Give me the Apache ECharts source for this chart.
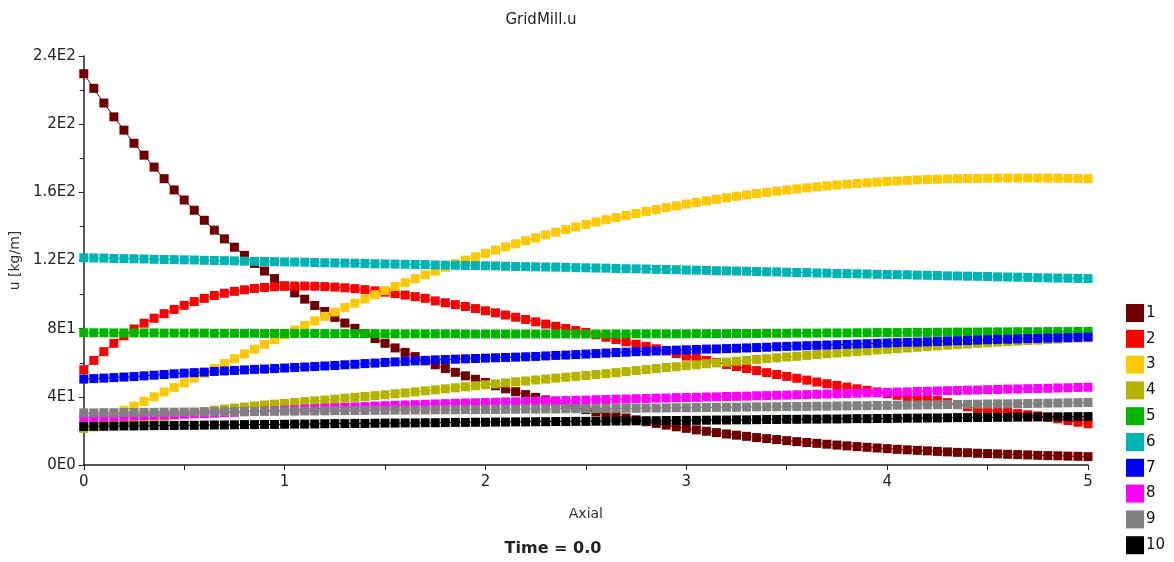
<!DOCTYPE html>
<html><head><meta charset="utf-8">
<script src="https://cdn.jsdelivr.net/npm/echarts@6/dist/echarts.min.js"></script>
<style>html,body{margin:0;padding:0;background:#fff}#c{width:1174px;height:562px}</style>
</head><body><div id="c"></div>
<script>
const axial = [0,0.05,0.1,0.15,0.2,0.25,0.3,0.35,0.4,0.45,0.5,0.55,0.6,0.65,0.7,0.75,0.8,0.85,0.9,0.95,
1,1.05,1.1,1.15,1.2,1.25,1.3,1.35,1.4,1.45,1.5,1.55,1.6,1.65,1.7,1.75,1.8,1.85,1.9,1.95,
2,2.05,2.1,2.15,2.2,2.25,2.3,2.35,2.4,2.45,2.5,2.55,2.6,2.65,2.7,2.75,2.8,2.85,2.9,2.95,
3,3.05,3.1,3.15,3.2,3.25,3.3,3.35,3.4,3.45,3.5,3.55,3.6,3.65,3.7,3.75,3.8,3.85,3.9,3.95,
4,4.05,4.1,4.15,4.2,4.25,4.3,4.35,4.4,4.45,4.5,4.55,4.6,4.65,4.7,4.75,4.8,4.85,4.9,4.95,5];

const u1 = [229.6,221,212.4,204.3,196.5,188.8,181.8,174.8,168,161.4,155.5,149.5,143.6,137.8,132.7,127.8,123,118.3,113.8,109.4,
105.1,101,97.3,93.6,90.1,86.6,83.3,80.2,77.2,74.2,71.4,68.7,66.1,63.6,61.1,58.8,56.6,54.4,52.3,50.3,
48.4,46.5,44.7,43,41.3,39.7,38.2,36.7,35.2,33.8,32.5,31.2,30,28.8,27.6,26.5,25.4,24.4,23.4,22.4,
21.5,20.6,19.8,19,18.2,17.5,16.8,16.1,15.5,14.9,14.3,13.7,13.2,12.7,12.2,11.7,11.2,10.8,10.4,10,
9.6,9.2,8.9,8.6,8.3,8,7.7,7.4,7.2,6.9,6.7,6.5,6.3,6.1,5.9,5.7,5.5,5.4,5.2,5.1,4.9];

const u2 = [55.9,61.4,66.5,71.4,75.8,79.8,83.2,86.1,88.8,91.3,93.7,95.9,97.8,99.5,100.8,101.9,102.8,103.6,104.2,104.6,
104.9,105,105,104.9,104.7,104.4,104,103.5,102.9,102.2,101.4,100.6,99.7,98.8,97.8,96.3,95.2,94.1,93,91.8,
90.5,89.3,88,86.7,85.4,84,82.7,81.4,80.1,78.9,77.8,76.4,75,73.6,72.3,70.9,69.6,68.2,66.9,65.4,
63.9,62.6,61.4,60.2,59,57.8,56.6,55.4,54.2,53.1,52,50.9,49.8,48.7,47.7,46.7,45.7,44.7,43.8,42.9,
41.9,40.9,40,39.2,38.5,37.8,36.6,35.4,34.2,33.1,32.3,31.6,30.9,30.2,29.5,28.8,28,27.1,26.1,25.1,24.2];

const u3 = [22,24.4,26.9,29.5,32.1,34.6,37.3,40,42.8,45.5,48.2,51,53.8,56.7,59.6,62.4,65.2,68,70.8,73.6,
76.4,79.2,81.9,84.6,87.2,89.8,92.4,94.9,97.4,99.9,102.3,104.7,107,109.3,111.6,113.8,116,118.1,120.2,122.2,
124.2,126.1,128,129.8,131.6,133.3,135,136.6,138.2,139.7,141.2,142.6,143.9,145.2,146.4,147.6,148.8,149.9,151,152.1,
153.1,154.1,155,155.9,156.8,157.7,158.5,159.3,160,160.7,161.4,162,162.6,163.2,163.8,164.3,164.8,165.2,165.6,166,
166.4,166.7,167,167.3,167.5,167.7,167.9,168,168.1,168.2,168.3,168.4,168.4,168.4,168.4,168.4,168.3,168.3,168.2,168.1,168];

const u4 = [21.5,22.4,23.3,24.2,25.1,26,26.8,27.6,28.4,29.2,30,30.7,31.4,32.1,32.8,33.4,34,34.6,35.2,35.7,
36.2,36.7,37.2,37.7,38.1,38.6,39.2,39.7,40.2,40.7,41.2,41.8,42.3,42.9,43.5,44.1,44.7,45.3,45.9,46.5,
47.1,47.6,48.2,48.8,49.3,49.9,50.4,51,51.5,52,52.5,53.1,53.6,54.2,54.8,55.4,56,56.6,57.2,57.7,
58.3,58.8,59.4,59.9,60.4,60.9,61.4,61.9,62.4,62.9,63.4,63.8,64.3,64.8,65.3,65.7,66.2,66.6,67,67.5,
67.9,68.3,68.7,69.1,69.5,69.9,70.3,70.6,71,71.4,71.7,72.1,72.4,72.7,73,73.3,73.6,73.9,74.2,74.5,74.8];

const u5 = [77.6,77.6,77.6,77.5,77.5,77.5,77.5,77.5,77.4,77.4,77.4,77.4,77.4,77.3,77.3,77.3,77.3,77.3,77.2,77.2,
77.2,77.2,77.2,77.2,77.1,77.1,77.1,77.1,77.1,77.1,77.0,77.0,77.0,77.0,77.0,77.0,77.0,77.0,76.9,76.9,
76.9,76.9,76.9,76.9,76.9,76.9,76.9,76.9,76.9,76.9,76.9,76.9,76.9,76.9,76.9,77.0,77.0,77.0,77.0,77.0,
77.0,77.1,77.1,77.1,77.1,77.2,77.2,77.2,77.3,77.3,77.3,77.4,77.4,77.4,77.5,77.5,77.5,77.6,77.6,77.7,
77.7,77.7,77.8,77.8,77.8,77.9,77.9,78.0,78.0,78.0,78.1,78.1,78.1,78.2,78.2,78.2,78.3,78.3,78.3,78.4,78.4];

const u6 = [121.6,121.5,121.4,121.2,121.1,121.0,120.9,120.7,120.6,120.5,120.4,120.3,120.1,120.0,119.9,119.8,119.6,119.5,119.4,119.3,
119.2,119.1,119.0,118.8,118.7,118.6,118.5,118.4,118.3,118.1,118.0,117.9,117.8,117.7,117.6,117.4,117.3,117.2,117.1,117.0,
116.9,116.8,116.6,116.5,116.4,116.3,116.2,116.1,116.0,115.8,115.7,115.6,115.5,115.3,115.2,115.1,115.0,114.8,114.7,114.6,
114.4,114.3,114.2,114.0,113.9,113.8,113.7,113.5,113.4,113.3,113.1,113.0,112.9,112.7,112.6,112.4,112.3,112.2,112.1,111.9,
111.8,111.7,111.6,111.4,111.3,111.2,111.0,110.9,110.8,110.7,110.6,110.4,110.3,110.2,110.1,109.9,109.8,109.7,109.6,109.5,109.4];

const u7 = [50.4,50.7,51.0,51.3,51.6,51.9,52.3,52.7,53.1,53.5,53.9,54.2,54.5,54.9,55.2,55.5,55.8,56.1,56.3,56.6,
56.9,57.2,57.5,57.8,58.1,58.4,58.8,59.1,59.5,59.8,60.2,60.5,60.8,61.1,61.4,61.7,61.9,62.1,62.3,62.5,
62.7,62.9,63.1,63.3,63.5,63.7,64.0,64.3,64.5,64.8,65.1,65.4,65.7,66.0,66.2,66.5,66.7,66.9,67.2,67.4,
67.6,67.8,68.0,68.1,68.3,68.5,68.7,68.9,69.1,69.4,69.6,69.8,70.0,70.2,70.4,70.6,70.8,71.0,71.2,71.4,
71.6,71.8,72.0,72.1,72.3,72.5,72.7,72.9,73.1,73.3,73.5,73.7,73.8,74.0,74.2,74.3,74.5,74.6,74.8,74.9,75.1];

const u8 = [27.8,28.0,28.2,28.4,28.6,28.8,29.0,29.2,29.4,29.6,29.8,30.0,30.2,30.4,30.7,30.9,31.2,31.4,31.7,31.9,
32.2,32.5,32.8,33.0,33.3,33.6,33.8,34.1,34.3,34.6,34.8,35.0,35.2,35.4,35.6,35.8,36.0,36.2,36.4,36.5,
36.7,36.8,37.0,37.1,37.3,37.4,37.6,37.7,37.8,38.0,38.1,38.3,38.4,38.6,38.7,38.9,39.0,39.2,39.3,39.5,
39.6,39.7,39.9,40.0,40.2,40.3,40.4,40.6,40.7,40.9,41.0,41.2,41.3,41.5,41.6,41.8,42.0,42.1,42.3,42.4,
42.6,42.8,42.9,43.1,43.2,43.4,43.6,43.7,43.9,44.0,44.2,44.3,44.5,44.6,44.8,44.9,45.0,45.2,45.3,45.5,45.6];

const u9 = [30.6,30.6,30.7,30.7,30.8,30.8,30.9,30.9,31.0,31.0,31.1,31.1,31.2,31.2,31.3,31.3,31.4,31.4,31.5,31.5,
31.6,31.6,31.7,31.7,31.8,31.9,31.9,32.0,32.0,32.1,32.1,32.2,32.2,32.3,32.3,32.4,32.4,32.4,32.5,32.5,
32.6,32.6,32.7,32.7,32.8,32.8,32.9,32.9,33.0,33.0,33.1,33.1,33.2,33.2,33.3,33.3,33.4,33.4,33.5,33.6,
33.6,33.7,33.7,33.8,33.9,33.9,34.0,34.1,34.1,34.2,34.3,34.3,34.4,34.5,34.5,34.6,34.7,34.8,34.8,34.9,
35.0,35.1,35.1,35.2,35.3,35.4,35.5,35.5,35.6,35.7,35.8,35.9,35.9,36.0,36.1,36.2,36.3,36.4,36.5,36.6,36.7];

const u10 = [22.6,22.7,22.7,22.8,22.9,22.9,23.0,23.1,23.1,23.2,23.3,23.3,23.4,23.5,23.5,23.6,23.7,23.7,23.8,23.8,
23.9,24.0,24.0,24.1,24.2,24.3,24.3,24.4,24.4,24.5,24.6,24.6,24.7,24.7,24.8,24.8,24.9,25.0,25.0,25.1,
25.1,25.2,25.2,25.3,25.3,25.4,25.4,25.5,25.5,25.6,25.6,25.7,25.7,25.8,25.8,25.9,26.0,26.0,26.1,26.1,
26.2,26.2,26.3,26.4,26.4,26.5,26.5,26.6,26.7,26.7,26.8,26.8,26.9,26.9,27.0,27.0,27.1,27.2,27.2,27.3,
27.3,27.4,27.5,27.5,27.6,27.6,27.7,27.8,27.8,27.9,27.9,28.0,28.0,28.1,28.1,28.2,28.2,28.3,28.3,28.4,28.4];

const seriesNames = ['1','2','3','4','5','6','7','8','9','10'];
const seriesValues = [u1,u2,u3,u4,u5,u6,u7,u8,u9,u10];
const colors = ['#700000','#ff0000','#ffc800','#b4b400','#00b400','#00b4b4','#0000ff','#ff00ff','#808080','#000000'];
const yTickLabels = {0:'0E0',40:'4E1',80:'8E1',120:'1.2E2',160:'1.6E2',200:'2E2',240:'2.4E2'};
const xTickLabels = {0:'0',1:'1',2:'2',3:'3',4:'4',5:'5'};

const FONT = 'DejaVu Sans';
const chart = echarts.init(document.getElementById('c'), null, {renderer:'canvas'});
chart.setOption({
  animation: false,
  backgroundColor: '#fff',
  color: colors,
  textStyle: {fontFamily: FONT},
  title: [
    {text: 'GridMill.u', left: 536, top: 8, textAlign: 'center',
     textStyle: {fontFamily: FONT, fontSize: 15, fontWeight: 'normal', color: '#222'}},
    {text: 'Time = 0.0', left: 548, top: 536, textAlign: 'center',
     textStyle: {fontFamily: FONT, fontSize: 16, fontWeight: 'bold', color: '#222'}}
  ],
  legend: {
    orient: 'vertical', left: 1126, top: 304, padding: 0, height: 258,
    itemWidth: 18, itemHeight: 18, itemGap: 7.8,
    icon: 'rect',
    textStyle: {fontFamily: FONT, fontSize: 15, color: '#111', padding: [0,0,0,-3]},
    data: seriesNames
  },
  grid: {left: 83, right: 86, top: 56, bottom: 97, containLabel: false},
  xAxis: {
    type: 'value', min: 0, max: 5, interval: 1,
    name: 'Axial', nameLocation: 'middle', nameGap: 42,
    nameTextStyle: {fontFamily: FONT, fontSize: 14, color: '#333'},
    axisLine: {lineStyle: {color: '#222', width: 1.5}},
    axisTick: {show: true, length: 5, lineStyle: {color: '#222'}},
    minorTick: {show: true, splitNumber: 2, length: 5, lineStyle: {color: '#222'}},
    splitLine: {show: false},
    axisLabel: {fontFamily: FONT, fontSize: 15, color: '#222', margin: 10,
      formatter: v => xTickLabels[v] !== undefined ? xTickLabels[v] : ''}
  },
  yAxis: {
    type: 'value', min: 0, max: 240, interval: 40,
    name: 'u [kg/m]', nameLocation: 'middle', nameGap: 56, nameRotate: 90,
    nameTextStyle: {fontFamily: FONT, fontSize: 14, color: '#333'},
    axisLine: {show: true, lineStyle: {color: '#222', width: 1.5}},
    axisTick: {show: true, length: 5, lineStyle: {color: '#222'}},
    minorTick: {show: true, splitNumber: 2, length: 4, lineStyle: {color: '#222'}},
    splitLine: {show: false},
    axisLabel: {fontFamily: FONT, fontSize: 15, color: '#222', margin: 8,
      formatter: v => yTickLabels[v] !== undefined ? yTickLabels[v] : ''}
  },
  series: seriesNames.map((n, k) => ({
    name: n, type: 'line',
    data: axial.map((x, i) => [x, seriesValues[k][i]]),
    symbol: 'rect', symbolSize: 9, showSymbol: true,
    lineStyle: {width: 1, color: colors[k]},
    itemStyle: {color: colors[k]},
    emphasis: {disabled: true}
  }))
});
</script></body></html>
